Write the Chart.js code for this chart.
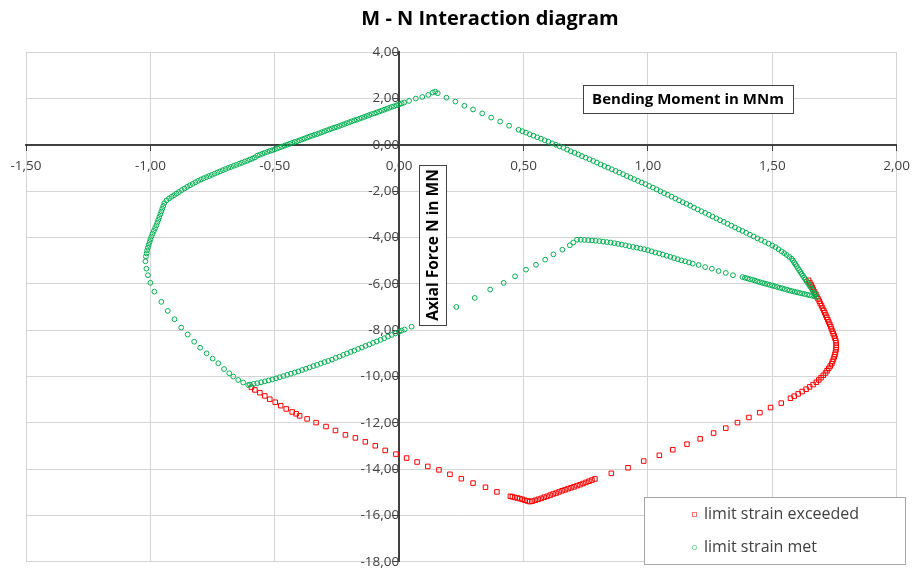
<!DOCTYPE html>
<html lang="en">
<head>
  <meta charset="UTF-8" />
  <title>M - N Interaction diagram</title>
  <script src="https://cdn.jsdelivr.net/npm/chart.js"></script>
  <style>
    html,body{margin:0;padding:0;background:#fff}
    #wrap{width:918px;height:572px;position:relative}
  </style>
</head>
<body>
  <div id="wrap"><canvas id="mnChart"></canvas></div>

  <script>
  // bending moment (MNm) / axial force (MN) pairs
  const metM = [
    -0.607,-0.627,-0.647,-0.667,-0.683,-0.704,-0.727,-0.75,-0.774,-0.8,-0.824,-0.85,-0.876,-0.903,-0.93,-0.956,-0.984,-1.0,-1.01,-1.016,-1.02,
    -1.018,-1.015,-1.013,-1.01,-1.007,-1.003,-1.0,-0.996,-0.991,-0.986,-0.981,-0.976,-0.972,-0.968,-0.964,-0.96,-0.956,-0.952,-0.948,-0.944,
    -0.935,-0.925,-0.915,-0.905,-0.895,-0.885,-0.874,-0.863,-0.852,-0.841,-0.83,-0.819,-0.808,-0.797,-0.786,-0.775,-0.764,-0.753,-0.742,-0.731,
    -0.72,-0.709,-0.698,-0.687,-0.676,-0.665,-0.654,-0.643,-0.632,-0.621,-0.61,-0.6,-0.59,-0.58,
    -0.57,-0.56,-0.55,-0.54,-0.53,-0.52,-0.51,-0.50,-0.49,-0.48,-0.47,-0.46,-0.45,-0.44,-0.43,-0.42,-0.41,-0.40,-0.39,-0.38,-0.37,-0.36,
    -0.35,-0.34,-0.33,-0.32,-0.31,-0.30,-0.29,-0.28,-0.27,-0.26,-0.25,-0.24,-0.23,-0.22,-0.21,-0.20,-0.19,-0.18,-0.17,-0.16,-0.15,-0.14,
    -0.13,-0.12,-0.11,-0.10,-0.09,-0.08,-0.07,-0.06,-0.05,-0.04,-0.03,-0.02,-0.01,0.00,0.01,0.02,
    0.04,0.067,0.093,0.117,0.135,0.145,0.155,0.19,0.226,0.262,0.297,0.334,0.37,0.406,0.442,0.48,
    0.495,0.51,0.525,0.54,0.555,0.57,0.585,0.60,0.615,0.63,0.645,0.66,0.675,0.69,0.705,0.72,0.735,0.75,0.765,0.78,0.795,0.81,0.825,0.84,
    0.855,0.87,0.885,0.90,0.915,0.93,0.945,0.96,0.975,0.99,1.005,1.02,1.035,1.05,1.065,1.08,1.095,1.11,1.125,1.14,1.155,1.17,1.185,1.20,
    1.215,1.23,1.245,1.26,1.275,1.29,1.305,1.32,1.335,1.35,1.365,1.38,1.395,1.41,1.425,1.44,1.455,1.47,1.485,1.50,1.513,
    1.525,1.537,1.548,1.558,1.568,1.578,
    1.583,1.588,1.593,1.598,1.603,1.608,1.613,1.618,1.623,1.628,1.633,1.638,1.643,1.648,1.653,1.658,1.663,1.668,1.673,1.68,
    1.67,1.66,1.65,1.64,1.63,1.62,1.61,1.60,1.59,1.58,1.57,1.56,1.55,1.54,1.53,1.52,1.51,1.50,1.49,1.48,1.47,1.46,1.45,1.44,1.43,1.42,1.41,1.40,1.39,1.38,
    1.342,1.313,1.284,1.257,1.23,1.204,
    1.18,1.165,1.15,1.135,1.12,1.105,1.09,1.075,1.06,1.045,1.03,1.015,1.0,0.985,0.97,0.955,0.94,0.925,0.91,0.895,0.88,0.865,0.85,0.835,
    0.82,0.805,0.79,0.775,0.76,0.745,0.73,0.715,
    0.70,0.686,0.656,0.62,0.587,0.55,0.51,0.466,0.42,0.366,0.304,0.23,0.16,0.10,0.05,
    0.022,0.01,0.0,-0.015,-0.03,-0.045,-0.06,-0.075,-0.09,-0.105,-0.12,-0.135,-0.15,-0.165,-0.18,-0.195,-0.21,-0.225,-0.24,-0.255,-0.27,
    -0.285,-0.30,-0.315,-0.33,-0.345,-0.36,-0.375,-0.39,-0.405,-0.42,-0.435,-0.45,-0.465,-0.48,-0.495,-0.51,-0.525,-0.54,-0.555,-0.57,-0.585,-0.60
  ];
  const metN = [
    -10.37,-10.26,-10.15,-10.0,-9.86,-9.68,-9.43,-9.23,-9.0,-8.76,-8.5,-8.19,-7.89,-7.53,-7.17,-6.78,-6.34,-5.96,-5.63,-5.35,-5.03,
    -4.82,-4.69,-4.56,-4.44,-4.32,-4.2,-4.08,-3.96,-3.84,-3.72,-3.6,-3.48,-3.36,-3.24,-3.12,-3.0,-2.88,-2.76,-2.64,-2.52,
    -2.40,-2.32,-2.25,-2.18,-2.11,-2.04,-1.96,-1.89,-1.82,-1.75,-1.69,-1.62,-1.56,-1.50,-1.45,-1.40,-1.35,-1.30,-1.25,-1.20,
    -1.15,-1.10,-1.05,-1.00,-0.96,-0.91,-0.87,-0.82,-0.78,-0.73,-0.69,-0.64,-0.60,-0.55,
    -0.47,-0.43,-0.39,-0.35,-0.31,-0.27,-0.24,-0.20,-0.16,-0.12,-0.08,-0.04,0.00,0.04,0.08,0.12,0.15,0.19,0.23,0.27,0.31,0.35,
    0.39,0.43,0.46,0.50,0.54,0.58,0.62,0.66,0.70,0.74,0.77,0.81,0.85,0.89,0.93,0.97,1.01,1.05,1.08,1.12,1.16,1.20,
    1.24,1.28,1.32,1.35,1.39,1.43,1.47,1.51,1.55,1.59,1.63,1.66,1.70,1.74,1.78,1.82,
    1.89,1.99,2.06,2.15,2.25,2.29,2.22,2.03,1.86,1.68,1.52,1.35,1.17,1.0,0.82,0.645,
    0.58,0.52,0.45,0.39,0.32,0.26,0.19,0.13,0.06,0.00,-0.07,-0.13,-0.21,-0.28,-0.35,-0.42,-0.49,-0.56,-0.63,-0.70,-0.77,-0.85,-0.92,-0.99,
    -1.06,-1.13,-1.20,-1.27,-1.35,-1.42,-1.49,-1.56,-1.63,-1.70,-1.78,-1.85,-1.93,-2.01,-2.09,-2.16,-2.24,-2.32,-2.40,-2.48,-2.55,-2.63,-2.71,-2.79,
    -2.87,-2.94,-3.02,-3.10,-3.18,-3.26,-3.33,-3.41,-3.49,-3.57,-3.65,-3.72,-3.80,-3.88,-3.96,-4.04,-4.11,-4.19,-4.27,-4.35,-4.42,
    -4.51,-4.60,-4.68,-4.76,-4.84,-4.92,
    -5.00,-5.08,-5.16,-5.24,-5.33,-5.41,-5.49,-5.57,-5.65,-5.73,-5.81,-5.89,-5.97,-6.05,-6.13,-6.21,-6.29,-6.38,-6.46,-6.57,
    -6.545,-6.52,-6.495,-6.47,-6.445,-6.42,-6.395,-6.37,-6.345,-6.32,-6.29,-6.26,-6.23,-6.20,-6.17,-6.14,-6.11,-6.08,-6.05,-6.02,-5.99,-5.96,-5.93,-5.90,-5.86,-5.83,-5.80,-5.77,-5.74,-5.71,
    -5.63,-5.53,-5.45,-5.35,-5.28,-5.19,
    -5.13,-5.08,-5.03,-4.99,-4.94,-4.89,-4.84,-4.79,-4.74,-4.69,-4.65,-4.60,-4.55,-4.51,-4.48,-4.44,-4.41,-4.38,-4.34,-4.31,-4.28,-4.25,-4.22,-4.20,
    -4.18,-4.16,-4.145,-4.13,-4.12,-4.11,-4.10,-4.10,
    -4.22,-4.34,-4.53,-4.73,-4.96,-5.18,-5.39,-5.68,-5.96,-6.25,-6.61,-7.0,-7.33,-7.62,-7.85,
    -7.97,-8.02,-8.07,-8.14,-8.21,-8.28,-8.35,-8.42,-8.49,-8.55,-8.62,-8.68,-8.75,-8.81,-8.88,-8.94,-9.01,-9.07,-9.14,-9.20,-9.27,
    -9.33,-9.38,-9.44,-9.50,-9.55,-9.61,-9.67,-9.72,-9.78,-9.83,-9.88,-9.93,-9.98,-10.03,-10.08,-10.13,-10.17,-10.21,-10.25,-10.29,-10.32,-10.35
  ];
  const exceededM = [
    1.646,1.651,1.656,1.661,1.665,1.670,1.675,1.679,1.684,1.689,1.693,1.698,1.702,1.707,1.711,1.715,1.719,1.723,1.727,1.731,1.735,1.738,
    1.742,1.745,1.749,1.752,1.755,1.756,1.757,1.757,1.756,1.754,1.752,1.749,1.746,1.742,1.739,1.733,1.727,1.720,1.714,1.705,1.696,1.687,
    1.677,1.664,1.650,1.636,1.620,1.604,1.588,1.573,
    1.536,1.493,1.45,1.406,1.36,1.313,1.264,1.21,1.157,1.1,1.046,0.983,0.92,0.853,
    0.787,0.775,0.763,0.751,0.739,0.727,0.715,0.703,0.691,0.679,0.667,0.655,0.643,0.631,0.619,0.607,0.595,0.583,0.571,0.559,0.547,0.535,
    0.525,0.515,0.505,0.495,0.485,0.475,0.465,0.455,0.447,
    0.393,0.347,0.297,0.25,0.204,0.16,0.115,0.072,0.03,-0.013,-0.056,-0.096,-0.136,-0.176,-0.216,-0.256,-0.294,-0.334,-0.37,
    -0.4,-0.414,-0.43,-0.454,-0.476,-0.498,-0.52,-0.54,-0.56,-0.58,-0.594
  ];
  const exceededN = [
    -5.85,-5.95,-6.05,-6.15,-6.25,-6.35,-6.45,-6.55,-6.65,-6.75,-6.85,-6.95,-7.05,-7.15,-7.25,-7.35,-7.45,-7.55,-7.65,-7.75,-7.85,-7.95,
    -8.05,-8.15,-8.25,-8.35,-8.45,-8.55,-8.65,-8.75,-8.85,-8.95,-9.05,-9.15,-9.25,-9.35,-9.45,-9.55,-9.65,-9.75,-9.85,-9.95,-10.05,-10.15,
    -10.25,-10.35,-10.45,-10.55,-10.65,-10.75,-10.85,-10.94,
    -11.15,-11.34,-11.56,-11.77,-11.99,-12.23,-12.44,-12.69,-12.92,-13.16,-13.4,-13.65,-13.94,-14.18,
    -14.42,-14.47,-14.52,-14.57,-14.62,-14.67,-14.71,-14.76,-14.80,-14.84,-14.89,-14.93,-14.98,-15.03,-15.07,-15.12,-15.17,-15.21,-15.26,-15.30,-15.34,-15.38,
    -15.40,-15.37,-15.34,-15.30,-15.27,-15.24,-15.22,-15.19,-15.17,
    -14.98,-14.78,-14.6,-14.41,-14.22,-14.03,-13.88,-13.69,-13.52,-13.35,-13.19,-12.99,-12.82,-12.65,-12.52,-12.33,-12.16,-11.99,-11.83,
    -11.7,-11.61,-11.53,-11.4,-11.26,-11.11,-10.98,-10.84,-10.7,-10.58,-10.47
  ];
  const seriesNames = ['limit strain exceeded', 'limit strain met'];
  const chartTitle = 'M - N Interaction diagram';
  const momentLabel = 'Bending Moment in MNm';
  const axialLabel = 'Axial Force N in MN';

  const RED = '#ff0000', GREEN = '#00b050';
  const FONT = '"Open Sans", sans-serif';
  const pairs = (xs, ys) => xs.map((x, i) => ({x, y: ys[i]}));
  const comma = v => v.toFixed(2).replace('.', ',');

  // title, boxed axis captions and legend
  const decorations = {
    id: 'decorations',
    afterDatasetsDraw(chart) {
      const c = chart.ctx;
      c.save();
      c.fillStyle = '#000';
      c.font = 'bold 20px ' + FONT;
      c.textAlign = 'center'; c.textBaseline = 'middle';
      c.fillText(chartTitle, 490, 19);

      function box(x, y, w, h) {
        c.fillStyle = '#fff'; c.fillRect(x, y, w, h);
        c.strokeStyle = '#404040'; c.lineWidth = 1;
        c.strokeRect(x + .5, y + .5, w, h);
      }
      box(583, 85, 210, 28);
      c.fillStyle = '#000';
      c.font = 'bold 15px ' + FONT;
      c.fillText(momentLabel, 688, 99.5);

      box(419, 165, 27, 160);
      c.save();
      c.translate(433.5, 245); c.rotate(-Math.PI / 2);
      c.fillStyle = '#000';
      c.font = 'bold 15.5px ' + FONT;
      c.fillText(axialLabel, 0, 0);
      c.restore();

      // legend
      c.fillStyle = '#fff'; c.fillRect(644, 497, 261, 67);
      c.strokeStyle = '#a6a6a6'; c.lineWidth = 1; c.strokeRect(644.5, 497.5, 261, 67);
      c.font = '16px ' + FONT; c.textAlign = 'left';
      c.strokeStyle = 'rgba(255,0,0,0.55)'; c.strokeRect(692.5, 512.5, 4, 4);
      c.fillStyle = '#404040'; c.fillText(seriesNames[0], 704, 514);
      c.strokeStyle = 'rgba(0,176,80,0.55)'; c.beginPath(); c.arc(694.5, 547.5, 2.2, 0, Math.PI * 2); c.stroke();
      c.fillText(seriesNames[1], 704, 547);
      c.restore();
    }
  };

  new Chart(document.getElementById('mnChart'), {
    type: 'scatter',
    data: {
      datasets: [
        {label: seriesNames[0], data: pairs(exceededM, exceededN), pointStyle: 'rect',
         pointRadius: 3.2, borderColor: RED, backgroundColor: 'rgba(0,0,0,0)', borderWidth: 1, order: 2},
        {label: seriesNames[1], data: pairs(metM, metN), pointStyle: 'circle',
         pointRadius: 2.4, borderColor: GREEN, backgroundColor: 'rgba(0,0,0,0)', borderWidth: 1, order: 1}
      ]
    },
    plugins: [decorations],
    options: {
      responsive: true,
      maintainAspectRatio: false,
      animation: false,
      layout: {padding: {left: 26, top: 52, right: 16, bottom: 9}},
      plugins: {legend: {display: false}, title: {display: false}, tooltip: {enabled: false}},
      scales: {
        x: {
          type: 'linear', min: -1.5, max: 2, position: {y: 0},
          ticks: {stepSize: 0.5, callback: v => comma(v), color: '#404040', padding: 8,
                  font: {family: FONT, size: 13.5}, maxRotation: 0},
          grid: {color: '#d4d4d4', tickColor: '#404040', tickLength: 5},
          border: {color: '#404040', width: 2}
        },
        y: {
          type: 'linear', min: -18, max: 4, position: {x: 0},
          ticks: {stepSize: 2, callback: v => comma(v), color: '#404040', padding: 2,
                  font: {family: FONT, size: 13.5}},
          grid: {color: '#d4d4d4', tickColor: '#404040', tickLength: 5},
          border: {color: '#404040', width: 2}
        }
      }
    }
  });
  </script>
</body>
</html>
